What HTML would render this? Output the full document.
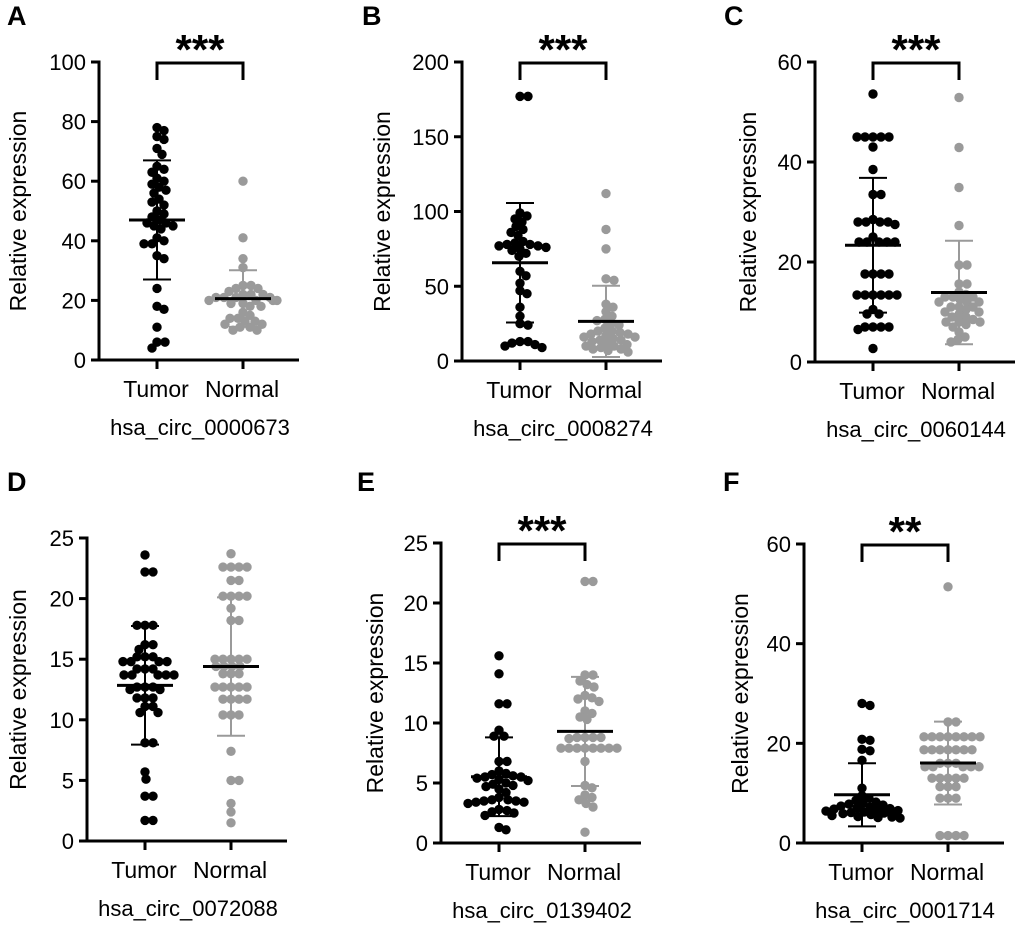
<!DOCTYPE html>
<html><head><meta charset="utf-8"><style>
html,body{margin:0;padding:0;background:#fff;}
svg{display:block;font-family:"Liberation Sans",Arial,sans-serif;}
</style></head><body>
<svg id="fig" width="1020" height="933" viewBox="0 0 1020 933" xmlns="http://www.w3.org/2000/svg"></svg>
<script>
// ---- Data ----
const categories = ["Tumor", "Normal"];
const panelLetters = ["A","B","C","D","E","F"];
const panelTitles = ["hsa_circ_0000673","hsa_circ_0008274","hsa_circ_0060144","hsa_circ_0072088","hsa_circ_0139402","hsa_circ_0001714"];
const yMax = [100, 200, 60, 25, 25, 60];
const yTicks = [[0,20,40,60,80,100],[0,50,100,150,200],[0,20,40,60],[0,5,10,15,20,25],[0,5,10,15,20,25],[0,20,40,60]];
const significance = ["***","***","***","","***","**"];

const tumorA = [77,78,74,75,71,69,64,63,65,61,60,59,57,56,58,54,53,52,50,49,48,47,46,45,45,46,44,40,39,41,39,35,34,24,18,17,11,6,6,4];
const normalA = [60,41,34,31,25,24,25,24,23,22,22,21,21,20,20,20,19,19,20,18,18,21,22,21,15,14,13,12,12,11,11,10,10,14,13,16];
const tumorB = [177,177,99,97,95,93,90,88,86,84,80,79,78,78,77,77,76,75,74,72,70,60,57,52,47,45,36,30,25,24,13,12,11,10,9,13];
const normalB = [112,88,75,55,54,38,36,33,30,28,27,25,24,22,20,19,18,17,16,15,14,14,13,12,11,10,10,9,8,8,7,6,20,18,16];
const tumorC = [53.6,45,45,45,45,45,43,38.5,33.5,33.5,28,28,28,28.5,28,27.5,25,24,24,24,24,24,17.6,17.6,17.6,17.6,13.4,13.4,13.4,13.4,13.4,13.4,10.5,9.6,9.6,7,7,7,6.5,7,2.7];
const normalC = [52.9,42.9,34.9,27.3,19.4,19.4,15.6,15.6,14,13.5,13,13,12.5,12,12,11,11,10.5,10,10,9.5,9,8,8,8,7.5,7,6,5,4.5,4,8.5,9,12,13,11];
const tumorD = [23.6,22.2,22.2,17.8,17.8,17.8,16.2,16.2,15.8,15.2,15.2,15.2,14.8,14.8,14.8,14.8,14.2,14.2,14.2,13.7,13.7,13.7,13.7,13.7,12.7,12.7,12.7,12.5,12.5,11.8,11.8,11.8,11.1,11.1,10.6,10.6,8.1,8.1,5.7,5.1,3.7,3.7,1.7,1.7];
const normalD = [23.7,22.6,22.6,22.6,22.6,21.5,21.5,20.2,20.2,20.2,20.2,19.2,18.2,18.2,15,15,15,15,15,14.4,14.4,14.4,14.4,13.8,13.8,13.8,12.7,12.7,12.7,12.7,12.7,11.7,11.7,11.7,11.7,10.4,10.4,10.4,7.4,5,5,3.1,2.4,1.5];
const tumorE = [15.6,14.1,11.6,11.6,9.4,8.9,8.9,6.8,6.8,6,5.8,5.7,5.6,5.5,5.5,5.4,5.3,5.2,5,4.9,4.8,4.7,4.5,4.2,3.8,3.6,3.6,3.5,3.5,3.4,3.4,3.3,2.8,2.7,2.6,2.5,2.3,1.3,1.1];
const normalE = [21.8,21.8,14,14,13.5,13.2,13,12.3,12.1,12,11.8,11,10.8,10.5,10.3,8.8,8.8,8.8,8.8,8.7,7.9,7.9,7.9,7.9,7.9,7.9,7.9,7.9,6.8,4.8,4.6,4,3.8,3.6,3.3,3,0.9];
const tumorF = [28,27.6,20.8,20.6,18.8,18.5,16.6,11,9.5,9,8.6,8.2,8,7.8,7.6,7.4,7.2,7,6.9,6.8,6.6,6.5,6.4,6.2,6.1,6,5.9,5.8,5.7,5.6,5.5,5.4,5.3,5.2,5.1,5];
const normalF = [51.4,24.3,24.3,21.3,21.3,21.3,21.3,21.3,21.3,21.3,21.3,18.7,18.7,18.7,18.7,18.7,18.7,18.7,16,16,16,15.3,15.3,15.3,15.3,15.3,13,13,13,13,13,11.3,11.3,11.3,9,9,9,1.5,1.5,1.5,1.5];

const tumorSeries = [tumorA,tumorB,tumorC,tumorD,tumorE,tumorF];
const normalSeries = [normalA,normalB,normalC,normalD,normalE,normalF];

// ---- Layout ----
const layout = [
  {ax:99, top:62, bot:360, lx:7, ly:25, yt:18},
  {ax:462, top:62, bot:361, lx:362, ly:25, yt:382},
  {ax:815, top:62, bot:362, lx:724, ly:25, yt:748},
  {ax:87, top:538, bot:841, lx:7, ly:491, yt:18},
  {ax:441, top:543, bot:843, lx:357, ly:491, yt:375},
  {ax:804, top:544, bot:843, lx:723, ly:491, yt:740}
];
const NS = "http://www.w3.org/2000/svg";
const svg = document.getElementById("fig");
function mk(tag, attrs, parent){
  const e = document.createElementNS(NS, tag);
  for (const k in attrs) e.setAttribute(k, attrs[k]);
  (parent||svg).appendChild(e);
  return e;
}
function stats(a){
  const m = a.reduce((s,v)=>s+v,0)/a.length;
  const sd = Math.sqrt(a.reduce((s,v)=>s+(v-m)*(v-m),0)/(a.length-1));
  return [m, sd];
}
function swarm(vals, yFn, cx, r){
  const order = vals.map((v,i)=>i).sort((a,b)=>vals[b]-vals[a]);
  const placed = [];
  const out = new Array(vals.length);
  const minD = 2*r*0.78;
  for (const i of order){
    const y = yFn(vals[i]);
    let best = 0;
    for (let s=0; s<40; s++){
      const cands = s===0 ? [0] : [s, -s];
      let ok = null;
      for (const dx of cands){
        if (placed.every(p => Math.hypot(p[0]-dx, p[1]-y) >= minD)) { ok = dx; break; }
      }
      if (ok !== null) { best = ok; break; }
      if (s===39) best = (placed.length%2? 1:-1)*30;
    }
    placed.push([best, y]);
    out[i] = [cx+best, y];
  }
  return out;
}

for (let p=0; p<6; p++){
  const L = layout[p];
  const g = mk("g", {});
  
  
  const y = v => L.bot - v/yMax[p]*(L.bot-L.top);
  const xs = [L.ax+58, L.ax+144];

  const letter = mk("text", {x:L.lx, y:L.ly, "font-size":27, "font-weight":"bold"}, g);
  letter.textContent = panelLetters[p];
  
  

  const yaxis = mk("line", {x1:L.ax, y1:L.top-1.5, x2:L.ax, y2:L.bot, stroke:"#000","stroke-width":3}, g);
  
  
  const xaxis = mk("line", {x1:L.ax-8, y1:L.bot, x2:L.ax+200, y2:L.bot, stroke:"#000","stroke-width":3}, g);
  
  
  for (const t of yTicks[p]){
    if (t>0) mk("line", {x1:L.ax-8, y1:y(t), x2:L.ax, y2:y(t), stroke:"#000","stroke-width":3}, g);
    const tl = mk("text", {x:L.ax-13, y:y(t)+8, "font-size":22, "text-anchor":"end"}, g);
    tl.textContent = t;
    
    
  }
  const yt = mk("text", {transform:`translate(${L.yt+8},${(L.top+L.bot)/2}) rotate(-90)`, "font-size":23, "text-anchor":"middle"}, g);
  yt.textContent = "Relative expression";
  
  

  for (let c=0; c<2; c++){
    mk("line", {x1:xs[c], y1:L.bot, x2:xs[c], y2:L.bot+9, stroke:"#000","stroke-width":3}, g);
    const cl = mk("text", {x:xs[c]-1, y:L.bot+37, "font-size":23, "text-anchor":"middle"}, g);
    cl.textContent = categories[c];
    
    
  }
  const tt = mk("text", {x:L.ax+101, y:L.bot+75, "font-size":22, "text-anchor":"middle"}, g);
  tt.textContent = panelTitles[p];
  
  

  if (significance[p]){
    const br = mk("path", {d:`M${xs[0]},${L.top+18} V${L.top+1} H${xs[1]} V${L.top+18}`, fill:"none", stroke:"#000","stroke-width":3}, g);
    
    
    const st = mk("text", {x:(xs[0]+xs[1])/2, y:L.top+2, "font-size":42, "font-weight":"bold", "text-anchor":"middle"}, g);
    st.textContent = significance[p];
    
    
  }

  const series = [tumorSeries[p], normalSeries[p]];
  const colors = ["#000", "#9a9a9a"];
  for (let c=0; c<2; c++){
    const pts = swarm(series[c], y, xs[c], 4.7);
    for (const pt of pts){
      const d = mk("circle", {cx:pt[0], cy:pt[1], r:4.7, fill:colors[c]}, g);
      
      
    }
  }
  for (let c=0; c<2; c++){
    const [m, sd] = stats(series[c]);
    const col = colors[c];
    const lo = Math.max(0, m-sd), hi = m+sd;
    const eb = mk("path", {d:`M${xs[c]},${y(lo)} V${y(hi)} M${xs[c]-14},${y(hi)} H${xs[c]+14} M${xs[c]-14},${y(lo)} H${xs[c]+14}`, fill:"none", stroke:col, "stroke-width":2}, g);
    
    
    const ml = mk("line", {x1:xs[c]-28, y1:y(m), x2:xs[c]+28, y2:y(m), stroke:"#000", "stroke-width":3}, g);
    
    
  }
}
</script>
</body></html>
